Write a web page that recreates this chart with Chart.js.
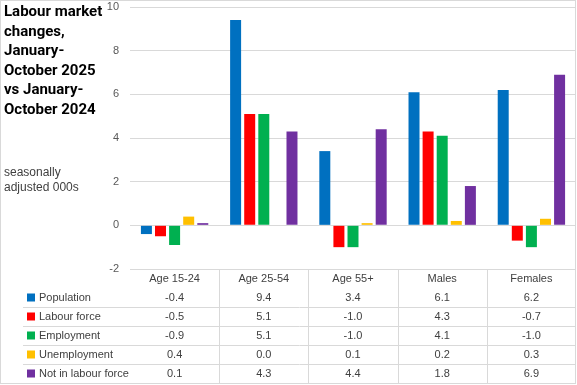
<!DOCTYPE html>
<html>
<head>
<meta charset="utf-8">
<script src="https://cdn.jsdelivr.net/npm/chart.js@4"></script>
<style>
  body { margin: 0; background: #fff; }
  #wrap { position: relative; width: 577px; height: 385px; }
  #title {
    position: absolute; left: 4px; top: 2px;
    font: bold 15px Roboto, "Liberation Sans", sans-serif;
    line-height: 19.5px; color: #000;
  }
  #sub {
    position: absolute; left: 4px; top: 165px;
    font: 12px "Liberation Sans", Arial, sans-serif;
    line-height: 15px; color: #404040;
  }
</style>
</head>
<body>
<div id="wrap">
  <canvas id="myChart" width="577" height="385"></canvas>
  <div id="title">Labour market<br>changes,<br>January-<br>October 2025<br>vs January-<br>October 2024</div>
  <div id="sub">seasonally<br>adjusted 000s</div>
</div>
<script>
// chart data
const categories = ['Age 15-24', 'Age 25-54', 'Age 55+', 'Males', 'Females'];
const seriesNames = ['Population', 'Labour force', 'Employment', 'Unemployment', 'Not in labour force'];
const population = [-0.4, 9.4, 3.4, 6.1, 6.2];
const labourForce = [-0.5, 5.1, -1.0, 4.3, -0.7];
const employment = [-0.9, 5.1, -1.0, 4.1, -1.0];
const unemployment = [0.4, 0.0, 0.1, 0.2, 0.3];
const notInLabourForce = [0.1, 4.3, 4.4, 1.8, 6.9];
const yMin = -2;
const yMax = 10;
const yStep = 2;

const colors = ['#0070C0', '#FF0000', '#00B050', '#FFC000', '#7030A0'];
const seriesValues = [population, labourForce, employment, unemployment, notInLabourForce];

const gridColor = '#d9d9d9';
const textColor = '#404040';
const tableFont = '11px "Liberation Sans", Arial, sans-serif';

// draws the data table under the plot + outer border
const dataTable = {
  id: 'dataTable',
  afterDraw(chart) {
    const ctx = chart.ctx;
    const x = chart.scales.x;
    const area = chart.chartArea;
    const top = area.bottom;
    const rowH = 19;
    const bottom = 384;
    ctx.save();
    ctx.strokeStyle = gridColor;
    ctx.lineWidth = 1;

    // column separators
    for (let i = 0; i < categories.length - 1; i++) {
      const bx = Math.round((x.getPixelForValue(i) + x.getPixelForValue(i + 1)) / 2) + 0.5;
      ctx.beginPath();
      ctx.moveTo(bx, top);
      ctx.lineTo(bx, bottom);
      ctx.stroke();
    }
    // row separators
    for (let r = 1; r < seriesNames.length; r++) {
      const ly = 288.5 + rowH * r;
      ctx.beginPath();
      ctx.moveTo(23, ly);
      ctx.lineTo(area.right, ly);
      ctx.stroke();
    }
    // outer border
    ctx.strokeRect(0.5, 0.5, 575, 383);

    ctx.font = tableFont;
    ctx.fillStyle = textColor;
    ctx.textBaseline = 'middle';
    ctx.textAlign = 'center';
    // header
    categories.forEach((c, i) => {
      ctx.fillText(c, x.getPixelForValue(i), 278.5);
    });
    // rows
    chart.data.datasets.forEach((ds, r) => {
      const cy = 297.5 + rowH * r;
      ctx.fillStyle = ds.backgroundColor;
      ctx.fillRect(27, cy - 4, 8, 8);
      ctx.fillStyle = textColor;
      ctx.textAlign = 'left';
      ctx.fillText(ds.label, 39, cy);
      ctx.textAlign = 'center';
      ds.data.forEach((v, i) => {
        ctx.fillText(v.toFixed(1), x.getPixelForValue(i), cy);
      });
    });
    ctx.restore();
  }
};

const chart = new Chart(document.getElementById('myChart').getContext('2d'), {
  type: 'bar',
  data: {
    labels: categories,
    datasets: seriesNames.map((name, i) => ({
      label: name,
      data: seriesValues[i],
      backgroundColor: colors[i],
      borderWidth: 0,
      categoryPercentage: 0.79,
      barPercentage: 0.78
    }))
  },
  options: {
    responsive: false,
    animation: false,
    layout: { padding: { top: 7, right: 1, bottom: 116, left: 0 } },
    plugins: {
      legend: { display: false },
      tooltip: { enabled: false }
    },
    scales: {
      x: { display: false },
      y: {
        min: yMin,
        max: yMax,
        ticks: {
          stepSize: yStep,
          color: '#595959',
          font: { family: '"Liberation Sans", Arial, sans-serif', size: 11 },
          padding: 11
        },
        grid: { color: gridColor, drawTicks: false },
        border: { display: false },
        afterFit(scale) {
          scale.width = 130;
          scale.paddingTop = 0;
          scale.paddingBottom = 0;
        }
      }
    }
  },
  plugins: [dataTable]
});
</script>
</body>
</html>
